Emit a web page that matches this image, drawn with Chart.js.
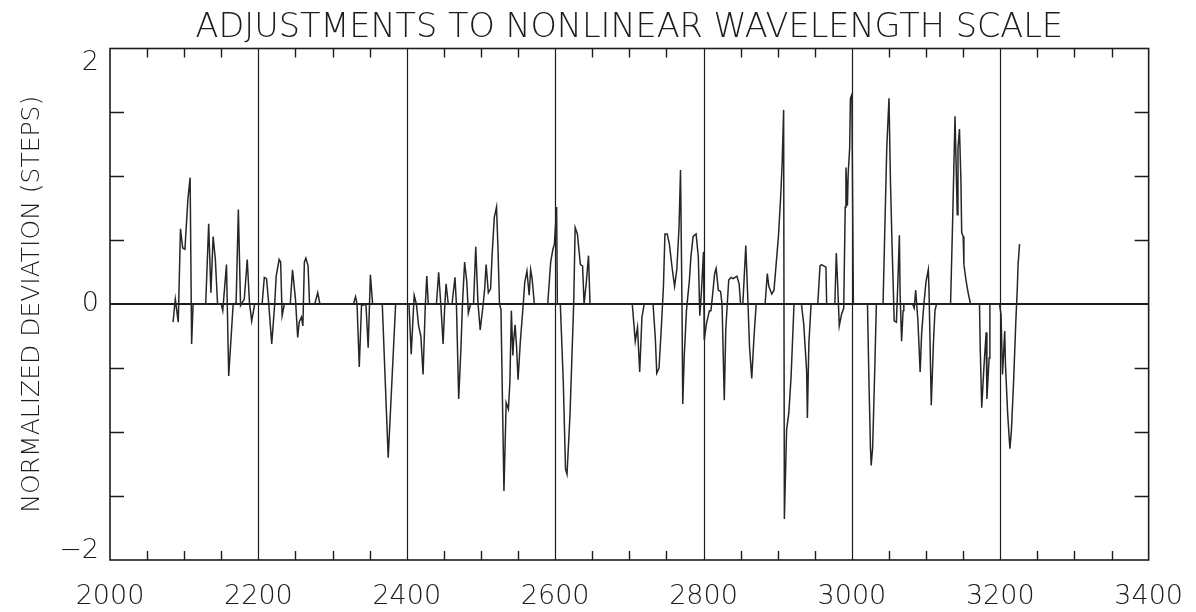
<!DOCTYPE html>
<html>
<head>
<meta charset="utf-8">
<title>Adjustments to nonlinear wavelength scale</title>
<script src="https://cdn.jsdelivr.net/npm/chart.js@4.4.1/dist/chart.umd.min.js"></script>
<style>
  html, body { margin: 0; padding: 0; background: #fff; }
  #wrap { width: 1196px; height: 612px; }
</style>
</head>
<body>
<div id="wrap"><canvas id="devChart" width="1196" height="612"></canvas></div>
<script>
// wavelength positions of the trace and the normalized deviation at each one
var wavelength = [
  2085, 2088, 2092, 2095, 2098, 2101, 2105, 2108, 2110, 2112,
  2129, 2133, 2136, 2139, 2142, 2145, 2150, 2152, 2157, 2160,
  2166, 2170, 2173, 2176, 2181, 2185, 2188, 2191, 2195, 2205,
  2208, 2211, 2214, 2218, 2222, 2224, 2228, 2230, 2232, 2235,
  2243, 2246, 2250, 2253, 2255, 2258, 2260, 2262, 2264, 2267,
  2269, 2276, 2280, 2283, 2328, 2331, 2333, 2336, 2339, 2345,
  2348, 2351, 2354, 2367, 2375, 2385, 2403, 2406, 2410, 2413,
  2416, 2419, 2422, 2425, 2427, 2429, 2440, 2443, 2446, 2449,
  2451, 2453, 2456, 2461, 2465, 2467, 2470, 2473, 2475, 2478,
  2481, 2483, 2486, 2490, 2493, 2496, 2499, 2503, 2505, 2507,
  2510, 2513, 2515, 2518, 2521, 2523, 2525, 2527, 2531, 2534,
  2537, 2539, 2541, 2543, 2544, 2546, 2548, 2550, 2553, 2557,
  2559, 2562, 2565, 2567, 2569, 2572, 2590, 2594, 2597, 2599,
  2602, 2603, 2607, 2611, 2614, 2616, 2620, 2625, 2627, 2630,
  2634, 2637, 2639, 2642, 2645, 2647, 2704, 2708, 2711, 2714,
  2717, 2720, 2732, 2735, 2737, 2740, 2743, 2746, 2748, 2751,
  2754, 2758, 2761, 2764, 2767, 2769, 2771, 2772, 2774, 2777,
  2781, 2783, 2786, 2790, 2793, 2795, 2797, 2800, 2801, 2804,
  2808, 2810, 2812, 2815, 2817, 2820, 2823, 2825, 2828, 2830,
  2832, 2834, 2837, 2840, 2845, 2848, 2850, 2853, 2857, 2860,
  2862, 2865, 2868, 2871, 2883, 2886, 2888, 2892, 2895, 2898,
  2901, 2904, 2906, 2908, 2909, 2912, 2915, 2918, 2922, 2932,
  2935, 2939, 2940, 2942, 2945, 2954, 2957, 2959, 2962, 2965,
  2966, 2977, 2979, 2981, 2983, 2986, 2989, 2991, 2992, 2994,
  2995, 2997, 2998, 3000, 3002, 3021, 3023, 3025, 3026, 3028,
  3031, 3033, 3042, 3044, 3047, 3050, 3052, 3054, 3056, 3057,
  3060, 3062, 3064, 3065, 3067, 3069, 3070, 3082, 3084, 3086,
  3089, 3092, 3094, 3097, 3100, 3103, 3104, 3107, 3110, 3112,
  3114, 3133, 3136, 3139, 3141, 3142, 3143, 3145, 3147, 3148,
  3150, 3151, 3154, 3157, 3160, 3172, 3173, 3175, 3178, 3181,
  3182, 3185, 3186, 3199, 3201, 3203, 3206, 3207, 3210, 3213,
  3215, 3218, 3221, 3223, 3224, 3226
];
var deviation = [
  -0.14, 0.04, -0.14, 0.59, 0.44, 0.43, 0.82, 0.99, -0.31, 0,
  0, 0.63, 0.09, 0.53, 0.35, 0, 0, -0.05, 0.31, -0.56,
  0, 0.01, 0.74, -0.01, 0.04, 0.35, 0.01, -0.13, 0, 0,
  0.21, 0.20, 0, -0.31, 0, 0.22, 0.35, 0.33, -0.09, 0,
  0, 0.27, 0.04, -0.26, -0.14, -0.10, -0.17, 0.33, 0.36, 0.30,
  0, 0, 0.09, 0, 0, 0.06, 0, -0.49, -0.01, 0,
  -0.34, 0.23, 0, 0, -1.20, 0, 0, -0.39, 0.07, 0,
  -0.17, -0.25, -0.55, -0.01, 0.22, 0, 0, 0.25, -0.01, -0.31,
  -0.04, 0.16, 0, 0, 0.21, -0.01, -0.74, -0.35, -0.01, 0.33,
  0.17, -0.07, 0, 0, 0.45, 0.01, -0.20, 0, 0.12, 0.31,
  0.09, 0.12, 0.38, 0.68, 0.76, 0.43, 0, -0.04, -1.46, -0.77,
  -0.82, -0.61, -0.05, -0.40, -0.29, -0.16, -0.33, -0.59, -0.30, 0,
  0.17, 0.26, 0.07, 0.27, 0.20, 0, 0, 0.33, 0.43, 0.47,
  0.76, 0, 0, -0.61, -1.29, -1.33, -0.87, 0, 0.60, 0.55,
  0.31, 0.30, 0, 0.17, 0.38, 0, 0, -0.29, -0.18, -0.53,
  -0.10, 0, 0, -0.26, -0.54, -0.50, -0.20, 0.14, 0.55, 0.55,
  0.47, 0.27, 0.14, 0.27, 0.60, 1.05, 0, -0.78, -0.41, -0.05,
  0.19, 0.37, 0.53, 0.55, 0.37, -0.09, 0.08, 0.41, -0.28, -0.15,
  -0.05, -0.05, 0.06, 0.24, 0.28, 0.11, 0.10, 0, -0.75, -0.20,
  0, 0.19, 0.21, 0.20, 0.22, 0.16, 0, 0, 0.46, 0,
  -0.33, -0.58, -0.26, 0, 0, 0.24, 0.14, 0.08, 0.11, 0.32,
  0.53, 0.84, 1.10, 1.52, -1.68, -0.98, -0.85, -0.57, 0, 0,
  -0.15, -0.52, -0.89, -0.31, 0, 0, 0.30, 0.31, 0.30, 0.29,
  0, 0, 0.40, 0.13, -0.17, -0.08, -0.03, 0.76, 1.07, 0.77,
  1.02, 1.22, 1.61, 1.64, 0, 0, -0.60, -1.12, -1.26, -1.12,
  -0.47, 0, 0, 0.49, 1.22, 1.61, 0.96, 0.49, 0.08, -0.13,
  -0.14, 0.18, 0.54, 0.08, -0.29, -0.05, 0, 0, -0.03, 0.11,
  -0.13, -0.53, -0.23, 0, 0.18, 0.27, 0.10, -0.79, -0.29, -0.05,
  0, 0, 0.70, 1.47, 0.96, 0.70, 1.22, 1.37, 0.96, 0.56,
  0.53, 0.31, 0.18, 0.08, 0, 0, -0.34, -0.81, -0.49, -0.22,
  -0.74, -0.42, 0, 0, -0.08, -0.55, -0.21, -0.47, -0.86, -1.13,
  -0.99, -0.60, -0.13, 0.13, 0.31, 0.47
];

// axis labels, reference lines and minor tick positions
var xLabels = [2000, 2200, 2400, 2600, 2800, 3000, 3200, 3400];
var yLabels = [-2, 0, 2];
var gridLines = [2200, 2400, 2600, 2800, 3000, 3200];
var xMinor = [];
for (var v = 2050; v < 3400; v += 50) {
  if (v % 200 !== 0) xMinor.push(v);
}
var yMinor = [-1.5, -1, -0.5, 0.5, 1, 1.5];

var ink = '#1c1c1c';
var fontFamily = '"DejaVu Sans", "Open Sans", sans-serif';
var labelFont = '200 27px ' + fontFamily;

function yText(v) {
  return v < 0 ? '\u2212' + (-v) : String(v);
}

// frame, inward ticks, vertical markers and the zero line
var framePlugin = {
  id: 'frame',
  beforeDatasetsDraw: function (chart) {
    var ctx = chart.ctx;
    var a = chart.chartArea;
    var xs = chart.scales.x;
    var ys = chart.scales.y;
    ctx.save();
    ctx.strokeStyle = ink;

    ctx.lineWidth = 1.2;
    gridLines.forEach(function (g) {
      var px = Math.round(xs.getPixelForValue(g)) + 0.5;
      ctx.beginPath();
      ctx.moveTo(px, a.top);
      ctx.lineTo(px, a.bottom);
      ctx.stroke();
    });

    ctx.lineWidth = 1.4;
    xMinor.forEach(function (m) {
      var px = Math.round(xs.getPixelForValue(m)) + 0.5;
      ctx.beginPath();
      ctx.moveTo(px, a.bottom);
      ctx.lineTo(px, a.bottom - 9);
      ctx.moveTo(px, a.top);
      ctx.lineTo(px, a.top + 9);
      ctx.stroke();
    });
    yMinor.forEach(function (m) {
      var py = Math.round(ys.getPixelForValue(m)) + 0.5;
      ctx.beginPath();
      ctx.moveTo(a.left, py);
      ctx.lineTo(a.left + 14, py);
      ctx.moveTo(a.right, py);
      ctx.lineTo(a.right - 14, py);
      ctx.stroke();
    });

    ctx.lineWidth = 2;
    var zy = Math.round(ys.getPixelForValue(0));
    ctx.beginPath();
    ctx.moveTo(a.left, zy);
    ctx.lineTo(a.right, zy);
    ctx.stroke();

    ctx.lineWidth = 1.6;
    ctx.strokeRect(a.left, a.top, a.right - a.left, a.bottom - a.top);
    ctx.restore();
  },
  // y labels: end labels are tucked inside the frame height
  afterDraw: function (chart) {
    var ctx = chart.ctx;
    var a = chart.chartArea;
    var ys = chart.scales.y;
    ctx.save();
    ctx.fillStyle = ink;
    ctx.font = labelFont;
    ctx.textAlign = 'right';
    yLabels.forEach(function (v) {
      var py = ys.getPixelForValue(v);
      if (v === ys.max) {
        ctx.textBaseline = 'top';
        py += 1;
      } else if (v === ys.min) {
        ctx.textBaseline = 'bottom';
        py += 4;
      } else {
        ctx.textBaseline = 'middle';
      }
      ctx.fillText(yText(v), a.left - 11, py);
    });
    ctx.restore();
  }
};

var ctx = document.getElementById('devChart').getContext('2d');
var devChart = new Chart(ctx, {
  type: 'line',
  data: {
    datasets: [{
      data: wavelength.map(function (w, i) { return { x: w, y: deviation[i] }; }),
      borderColor: '#262626',
      borderWidth: 1.5,
      pointRadius: 0,
      tension: 0,
      fill: false
    }]
  },
  options: {
    responsive: false,
    animation: false,
    events: [],
    layout: { padding: { left: 0, right: 44, top: 0, bottom: 0 } },
    plugins: {
      legend: { display: false },
      tooltip: { enabled: false },
      title: {
        display: true,
        fullSize: false,
        text: 'ADJUSTMENTS TO NONLINEAR WAVELENGTH SCALE',
        color: ink,
        font: { family: fontFamily, size: 33.5, weight: 200, lineHeight: 1 },
        padding: { top: 12, bottom: 3 }
      }
    },
    scales: {
      x: {
        type: 'linear',
        min: 2000,
        max: 3400,
        afterBuildTicks: function (s) {
          s.ticks = xLabels.map(function (v) { return { value: v }; });
        },
        afterFit: function (s) { s.height = 52; },
        grid: { display: false },
        border: { display: false },
        ticks: {
          color: ink,
          padding: 13,
          maxRotation: 0,
          font: { family: fontFamily, size: 27, weight: 200 },
          callback: function (v) { return String(v); }
        }
      },
      y: {
        type: 'linear',
        min: -2,
        max: 2,
        afterBuildTicks: function (s) {
          s.ticks = yLabels.map(function (v) { return { value: v }; });
        },
        afterFit: function (s) { s.width = 110; },
        grid: { display: false },
        border: { display: false },
        ticks: { display: false },
        title: {
          display: true,
          text: 'NORMALIZED DEVIATION (STEPS)',
          color: ink,
          font: { family: fontFamily, size: 25, weight: 200 },
          padding: { top: 17, bottom: 0 }
        }
      }
    }
  },
  plugins: [framePlugin]
});
</script>
</body>
</html>
